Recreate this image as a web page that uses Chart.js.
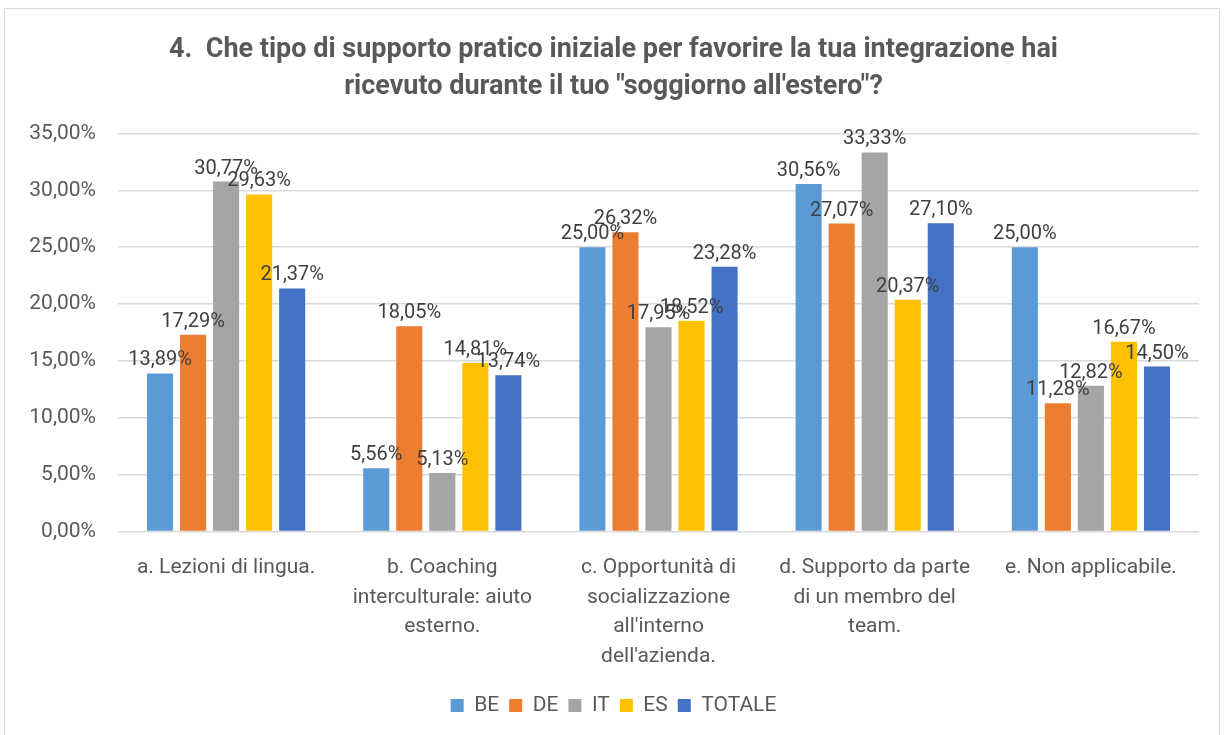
<!DOCTYPE html>
<html>
<head>
<meta charset="utf-8">
<script src="https://cdn.jsdelivr.net/npm/chart.js@4"></script>
<style>
  html, body { margin: 0; padding: 0; background: #fff; }
  #wrap { position: absolute; left: 0; top: 0; width: 1227px; height: 735px; }
</style>
</head>
<body>
<div id="wrap"><canvas id="chart" width="1227" height="735"></canvas></div>
<script>
const categories = [
  ['a. Lezioni di lingua.'],
  ['b. Coaching', 'interculturale: aiuto', 'esterno.'],
  ['c. Opportunità di', 'socializzazione', "all'interno", "dell'azienda."],
  ['d. Supporto da parte', 'di un membro del', 'team.'],
  ['e. Non applicabile.']
];
const seriesNames = ['BE', 'DE', 'IT', 'ES', 'TOTALE'];
const valuesBE = [13.89, 5.56, 25.00, 30.56, 25.00];
const valuesDE = [17.29, 18.05, 26.32, 27.07, 11.28];
const valuesIT = [30.77, 5.13, 17.95, 33.33, 12.82];
const valuesES = [29.63, 14.81, 18.52, 20.37, 16.67];
const valuesTOT = [21.37, 13.74, 23.28, 27.10, 14.50];
const yTicks = [0, 5, 10, 15, 20, 25, 30, 35];

const colors = ['#5B9BD5', '#ED7D31', '#A5A5A5', '#FFC000', '#4472C4'];
const allValues = [valuesBE, valuesDE, valuesIT, valuesES, valuesTOT];

const fmt = v => v.toFixed(2).replace('.', ',') + '%';
const FONT = 'Roboto';

// etichette sopra le barre + cornice grigia
const extras = {
  id: 'extras',
  beforeDraw(chart) {
    const c = chart.ctx;
    c.save();
    c.fillStyle = '#fff';
    c.fillRect(0, 0, chart.width, chart.height);
    c.strokeStyle = '#d9d9d9';
    c.lineWidth = 1;
    c.strokeRect(4.5, 8.5, chart.width - 12, chart.height);
    c.restore();
  },
  afterDatasetsDraw(chart) {
    const c = chart.ctx;
    c.save();
    c.font = '20px ' + FONT;
    c.fillStyle = '#404040';
    c.textAlign = 'center';
    c.textBaseline = 'bottom';
    chart.data.datasets.forEach((ds, i) => {
      chart.getDatasetMeta(i).data.forEach((bar, j) => {
        c.fillText(fmt(ds.data[j]), bar.x, bar.y - 3);
      });
    });
    c.restore();
  }
};

new Chart(document.getElementById('chart'), {
  type: 'bar',
  data: {
    labels: categories,
    datasets: seriesNames.map((name, i) => ({
      label: name,
      data: allValues[i],
      backgroundColor: colors[i],
      borderWidth: 0,
      categoryPercentage: 0.764,
      barPercentage: 0.79
    }))
  },
  options: {
    responsive: false,
    animation: false,
    layout: { padding: { left: 28, right: 28, top: 32, bottom: 9 } },
    plugins: {
      title: {
        display: true,
        text: ['4.  Che tipo di supporto pratico iniziale per favorire la tua integrazione hai',
               'ricevuto durante il tuo "soggiorno all\'estero"?'],
        color: '#595959',
        font: { family: FONT, size: 27, weight: 'bold', lineHeight: 1.36 },
        padding: { top: 0, bottom: 28 }
      },
      legend: {
        position: 'bottom',
        labels: {
          color: '#595959',
          font: { family: FONT, size: 21 },
          boxWidth: 13,
          boxHeight: 13,
          padding: 10
        }
      },
      tooltip: { enabled: false }
    },
    scales: {
      x: {
        grid: { display: false },
        border: { display: false },
        ticks: {
          color: '#595959',
          font: { family: FONT, size: 21, lineHeight: 1.4 },
          maxRotation: 0,
          autoSkip: false,
          padding: 14
        }
      },
      y: {
        min: 0,
        max: 35,
        afterBuildTicks(axis) { axis.ticks = yTicks.map(v => ({ value: v })); },
        afterFit(axis) { axis.width = 90; },
        grid: { color: '#d9d9d9', lineWidth: 1.5, drawTicks: false },
        border: { display: false },
        ticks: {
          color: '#595959',
          font: { family: FONT, size: 21 },
          padding: 22,
          callback: v => fmt(v)
        }
      }
    }
  },
  plugins: [extras]
});
</script>
</body>
</html>
